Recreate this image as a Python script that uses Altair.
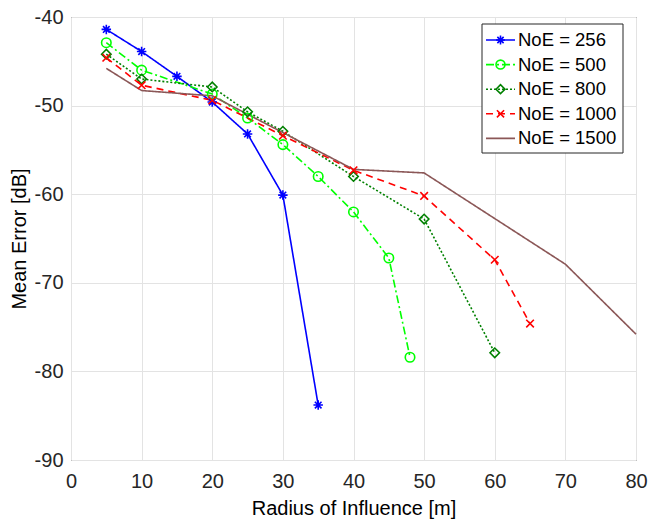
import altair as alt
import pandas as pd

series_names = ["NoE = 256", "NoE = 500", "NoE = 800", "NoE = 1000", "NoE = 1500"]
colors = ["#0000FF", "#00FF00", "#008000", "#FF0000", "#8B5757"]
dashes = [[1, 0], [8, 3, 2, 3], [2, 2], [7, 5], [1, 0]]
asterisk = "M-1,0L1,0M0,-1L0,1M-0.7,-0.7L0.7,0.7M-0.7,0.7L0.7,-0.7"
xmark = "M-0.8,-0.8L0.8,0.8M-0.8,0.8L0.8,-0.8"
shapes = [asterisk, "circle", "diamond", xmark, "circle"]
has_marker = [True, True, True, True, False]

x256 = [5, 10, 15, 20, 25, 30, 35]
y256 = [-41.4, -43.9, -46.7, -49.6, -53.2, -60.1, -83.8]
x500 = [5, 10, 20, 25, 30, 35, 40, 45, 48]
y500 = [-42.9, -46.0, -48.7, -51.4, -54.4, -58.0, -62.0, -67.2, -78.4]
x800 = [5, 10, 20, 25, 30, 40, 50, 60]
y800 = [-44.2, -47.0, -47.9, -50.7, -52.9, -58.0, -62.8, -77.9]
x1000 = [5, 10, 20, 30, 40, 50, 60, 65]
y1000 = [-44.6, -47.7, -49.4, -53.4, -57.3, -60.2, -67.4, -74.6]
x1500 = [5, 10, 20, 40, 50, 70, 80]
y1500 = [-45.8, -48.3, -48.9, -57.2, -57.6, -67.9, -75.8]

xs = [x256, x500, x800, x1000, x1500]
ys = [y256, y500, y800, y1000, y1500]

rows = []
for i, name in enumerate(series_names):
    for xv, yv in zip(xs[i], ys[i]):
        rows.append({"series": name, "order": i, "r": xv, "err": yv, "marker": has_marker[i]})
df = pd.DataFrame(rows)

leg = pd.DataFrame({"series": series_names, "row": list(range(5)), "marker": has_marker})

FONT = "Liberation Sans"
W, H = 565, 443

color_enc = alt.Color("series:N", scale=alt.Scale(domain=series_names, range=colors), legend=None)
dash_enc = alt.StrokeDash("series:N", scale=alt.Scale(domain=series_names, range=dashes), legend=None)
shape_enc = alt.Shape("series:N", scale=alt.Scale(domain=series_names, range=shapes), legend=None)

xenc = alt.X("r:Q", scale=alt.Scale(domain=[0, 80], nice=False),
             axis=alt.Axis(title="Radius of Influence [m]", values=list(range(0, 81, 10)),
                           labelExpr="'' + datum.value", labelFlush=False))
yenc = alt.Y("err:Q", scale=alt.Scale(domain=[-90, -40], nice=False),
             axis=alt.Axis(title="Mean Error [dB]", values=list(range(-90, -39, 10)),
                           labelExpr="'' + datum.value", labelFlush=False))

base = alt.Chart(df)
lines = base.mark_line(strokeWidth=1.6).encode(
    x=xenc, y=yenc, color=color_enc, strokeDash=dash_enc,
    detail="series:N", order=alt.Order("r:Q"))
points = base.transform_filter("datum.marker").mark_point(
    filled=False, strokeWidth=1.6, size=90, opacity=1).encode(
    x=xenc, y=yenc, color=color_enc, shape=shape_enc)

main = alt.layer(lines, points)

lbase = alt.Chart(leg)
ly = alt.Y("row:Q", scale=alt.Scale(domain=[0, 4], range=[23, 121.4]), axis=None)
box = alt.Chart(pd.DataFrame({"a": [0]})).mark_rect(
    fill="white", stroke="#262626", strokeWidth=1).encode(
    x=alt.value(411), x2=alt.value(552), y=alt.value(7), y2=alt.value(136))
lline = lbase.mark_rule(strokeWidth=1.6).encode(
    x=alt.value(415), x2=alt.value(444), y=ly, color=color_enc, strokeDash=dash_enc)
lpt = lbase.transform_filter("datum.marker").mark_point(
    filled=False, strokeWidth=1.6, size=80, opacity=1).encode(
    x=alt.value(429.5), y=ly, color=color_enc, shape=shape_enc)
ltxt = lbase.mark_text(align="left", baseline="middle", font=FONT, fontSize=18.5,
                       color="#000000").encode(x=alt.value(447), y=ly, text="series:N")
legend = alt.layer(box, lline, lpt, ltxt)

chart = alt.layer(main, legend).resolve_scale(y="independent").properties(
    width=W, height=H,
    autosize=alt.AutoSizeParams(type="none"),
    padding={"left": 71, "top": 17, "right": 13, "bottom": 63},
    background="white",
).configure_view(stroke="#262626", strokeWidth=1).configure_axis(
    grid=True, gridColor="#E3E3E3", gridWidth=1, domain=False, ticks=False,
    labelFont=FONT, labelFontSize=20, labelColor="#262626",
    titleFont=FONT, titleFontSize=20, titleColor="#000000", titleFontWeight="normal",
).configure_axisX(labelPadding=11, titlePadding=7).configure_axisY(
    labelPadding=8, titlePadding=5)

chart.save("out.html", embed_options={"renderer": "svg", "actions": False})
